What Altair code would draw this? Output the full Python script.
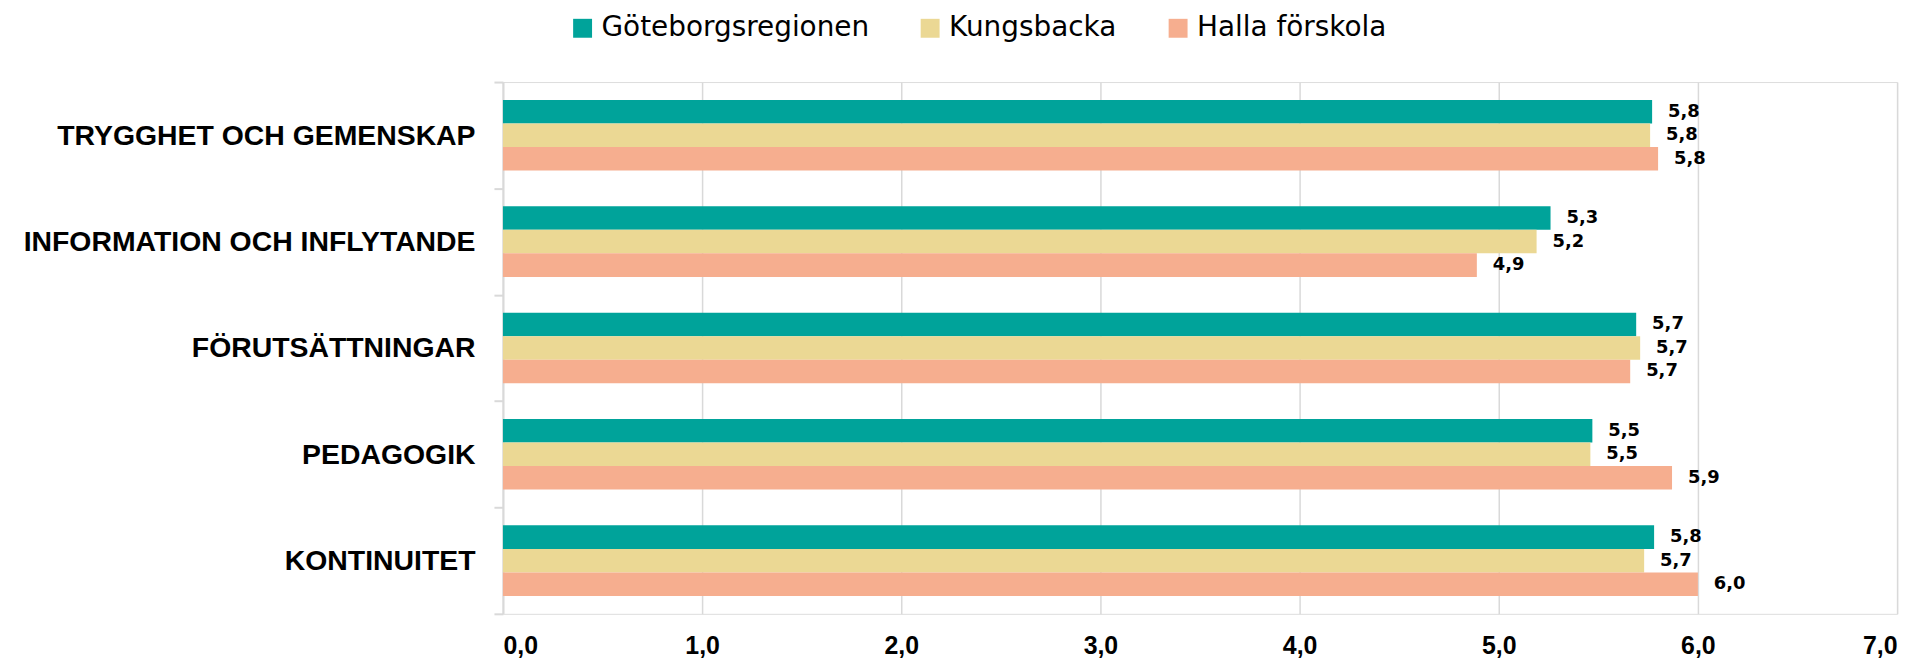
import altair as alt
import pandas as pd

categories = ["TRYGGHET OCH GEMENSKAP", "INFORMATION OCH INFLYTANDE", "FÖRUTSÄTTNINGAR", "PEDAGOGIK", "KONTINUITET"]
series = ["Göteborgsregionen", "Kungsbacka", "Halla förskola"]
colors = ["#00A39A", "#EBD894", "#F6AE8F"]

goteborg = [5.77, 5.26, 5.69, 5.47, 5.78]
kungsbacka = [5.76, 5.19, 5.71, 5.46, 5.73]
halla = [5.80, 4.89, 5.66, 5.87, 6.00]

x_ticks = [0, 1, 2, 3, 4, 5, 6, 7]

rows = []
for s, vals in zip(series, [goteborg, kungsbacka, halla]):
    for c, v in zip(categories, vals):
        rows.append({"category": c, "series": s, "value": v,
                     "label": f"{v:.1f}".replace(".", ",")})
df = pd.DataFrame(rows)

y_enc = alt.Y("category:N", sort=categories, title=None,
              scale=alt.Scale(paddingInner=0, paddingOuter=0),
              axis=alt.Axis(labelFont="Liberation Sans", labelFontWeight="bold",
                            labelFontSize=28.5, labelColor="#000000", labelLimit=600,
                            labelPadding=19, tickBand="extent", tickSize=9,
                            tickColor="#D9D9D9", tickWidth=2, domainColor="#D9D9D9",
                            domainWidth=2, grid=False))
yoff_enc = alt.YOffset("series:N", sort=series,
                       scale=alt.Scale(paddingInner=0, paddingOuter=0.76))
x_enc = alt.X("value:Q", title=None,
              scale=alt.Scale(domain=[0, 7], nice=False, zero=True),
              axis=alt.Axis(values=x_ticks, labelExpr="replace(format(datum.value, '.1f'), '.', ',')",
                            labelFont="Liberation Sans", labelFontWeight="bold",
                            labelFontSize=25, labelColor="#000000", labelPadding=20,
                            domain=False, ticks=False, grid=True,
                            gridColor="#D9D9D9", gridWidth=1.5))

bars = alt.Chart(df).mark_bar().encode(
    y=y_enc,
    yOffset=yoff_enc,
    x=x_enc,
    color=alt.Color("series:N", sort=series,
                    scale=alt.Scale(domain=series, range=colors),
                    legend=alt.Legend(orient="none", direction="horizontal", title=None,
                                      legendX=66, legendY=-68,
                                      symbolType="square", symbolSize=361,
                                      symbolStrokeWidth=0, symbolOpacity=1,
                                      labelFont="DejaVu Sans", labelFontSize=28,
                                      labelColor="#000000", labelLimit=600,
                                      labelOffset=5, columnPadding=47, padding=0)),
)

texts = alt.Chart(df).mark_text(align="left", baseline="middle", dx=16,
                                font="DejaVu Sans", fontWeight="bold",
                                fontSize=18, color="#000000").encode(
    y=alt.Y("category:N", sort=categories),
    yOffset=alt.YOffset("series:N", sort=series),
    x=alt.X("value:Q"),
    text="label:N",
)

chart = alt.layer(bars, texts).properties(
    width=1400, height=534,
    autosize=alt.AutoSizeParams(type="none"),
    padding={"left": 497, "top": 73, "right": 21, "bottom": 45},
).configure_view(stroke=None).configure(background="#FFFFFF")

chart.save("out.html", embed_options={"renderer": "svg", "actions": False})
